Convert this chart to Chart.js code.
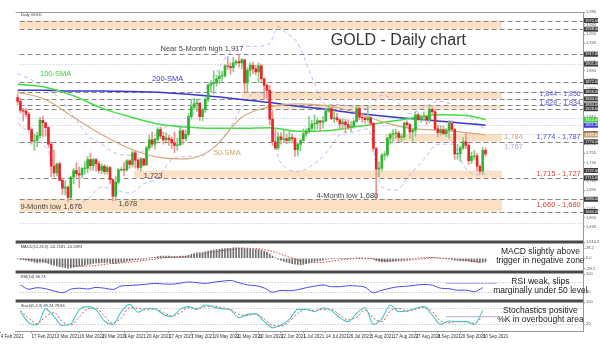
<!DOCTYPE html>
<html>
<head>
<meta charset="utf-8">
<script src="https://cdn.jsdelivr.net/npm/chart.js@4.4.1/dist/chart.umd.min.js"></script>
<style>
  html, body { margin: 0; padding: 0; background: #fff; }
  #wrap { position: relative; width: 600px; height: 345px; }
  canvas { display: block; }
</style>
</head>
<body>
<div id="wrap"><canvas id="goldChart" width="600" height="345"></canvas></div>
<script>
/* ====== DATA ====== */
// daily candles, 10 Feb 2021 -> 1 Oct 2021 (one entry per trading day)
const open = [
  1846,1840,1825,1824,1819,1794,1775,1776,1784,1809,1805,1797,1770,                               // Feb
  1734,1723,1738,1711,1698,1700,1683,1716,1727,1722,1720,1730,1731,1745,1735,1745,1738,1727,1734,1725,1732,1712,1685, // Mar
  1708,1728,1729,1728,1743,1737,1756,1744,1732,1746,1736,1764,1777,1770,1778,1794,1783,1777,1780,1778,1772,1768,      // Apr
  1769,1792,1779,1786,1815,1831,1836,1837,1815,1826,1843,1867,1869,1870,1877,1881,1882,1898,1897,1895,1903,           // May
  1905,1903,1908,1870,1891,1899,1893,1888,1898,1877,1866,1858,1811,1774,1764,1782,1778,1779,1776,1781,1779,1761,      // Jun
  1770,1776,1787,1791,1796,1803,1804,1808,1806,1808,1824,1828,1812,1813,1810,1803,1806,1802,1798,1799,1807,1828,      // Jul
  1814,1813,1810,1813,1804,1763,1729,1731,1752,1753,1780,1786,1787,1788,1781,1782,1805,1802,1790,1793,1818,1810,      // Aug
  1814,1815,1810,1827,1823,1795,1789,1794,1787,1793,1804,1794,1754,1755,1764,1774,1768,1743,1750,1751,1734,1726,1760  // Sep/Oct
];
const high = [
  1852,1845,1829,1828,1822,1797,1787,1790,1814,1816,1806,1799,1774,
  1760,1739,1741,1714,1710,1702,1718,1730,1740,1733,1732,1741,1750,1755,1747,1747,1742,1738,1737,1735,1734,1713,1718,
  1730,1732,1740,1745,1745,1759,1759,1746,1748,1747,1766,1785,1790,1780,1797,1798,1790,1789,1785,1782,1790,1780,
  1798,1794,1793,1820,1843,1845,1844,1838,1829,1846,1868,1874,1890,1883,1890,1889,1900,1913,1903,1912,1908,
  1917,1910,1909,1895,1903,1904,1899,1903,1901,1878,1869,1866,1825,1795,1789,1789,1795,1786,1793,1787,1781,1772,
  1779,1795,1795,1815,1809,1818,1813,1809,1815,1829,1834,1832,1825,1821,1812,1812,1811,1810,1807,1810,1832,1831,
  1820,1815,1832,1815,1806,1765,1741,1755,1758,1781,1788,1794,1794,1791,1787,1806,1808,1804,1796,1823,1821,1818,
  1823,1817,1834,1830,1826,1801,1800,1800,1796,1809,1808,1796,1770,1767,1781,1788,1771,1757,1760,1755,1736,1765,1764
];
const low = [
  1834,1821,1808,1815,1792,1770,1760,1766,1780,1782,1783,1765,1717,
  1717,1718,1710,1688,1687,1676,1681,1705,1716,1699,1715,1721,1723,1727,1727,1726,1723,1722,1721,1721,1705,1677,1678,
  1705,1726,1719,1726,1731,1733,1731,1728,1726,1734,1735,1760,1765,1762,1775,1779,1770,1774,1768,1763,1756,1760,
  1768,1770,1775,1783,1812,1826,1823,1809,1808,1822,1839,1856,1852,1865,1869,1873,1879,1892,1884,1888,1899,
  1896,1893,1856,1855,1881,1885,1883,1871,1873,1845,1845,1802,1768,1761,1761,1770,1774,1771,1772,1772,1750,1751,
  1759,1775,1783,1788,1793,1793,1795,1791,1796,1807,1822,1810,1805,1807,1794,1797,1789,1794,1791,1796,1806,1810,
  1806,1804,1806,1800,1758,1680,1717,1726,1744,1750,1770,1774,1779,1774,1774,1778,1797,1780,1775,1783,1808,1806,
  1808,1802,1805,1820,1792,1782,1785,1785,1782,1780,1792,1745,1745,1742,1761,1763,1737,1738,1745,1726,1721,1722,1750
];
const close = [
  1840,1825,1824,1819,1794,1775,1776,1784,1809,1805,1797,1770,1734,
  1723,1738,1711,1698,1700,1683,1716,1727,1722,1720,1730,1731,1745,1735,1745,1738,1727,1734,1725,1732,1712,1685,1708,
  1728,1729,1728,1743,1737,1756,1744,1732,1746,1736,1764,1777,1770,1778,1794,1783,1777,1780,1778,1772,1768,1769,
  1792,1779,1786,1815,1831,1836,1837,1815,1826,1843,1867,1869,1870,1877,1881,1882,1898,1897,1895,1903,1905,
  1903,1908,1870,1891,1899,1893,1888,1898,1877,1866,1858,1811,1774,1764,1782,1778,1779,1776,1781,1779,1761,1770,
  1776,1787,1791,1796,1803,1804,1808,1806,1808,1824,1828,1812,1813,1810,1803,1806,1802,1798,1799,1807,1828,1814,
  1813,1810,1813,1804,1763,1729,1731,1752,1753,1780,1786,1787,1788,1781,1782,1805,1802,1790,1793,1818,1810,1814,
  1815,1810,1827,1823,1795,1789,1794,1787,1793,1804,1794,1754,1755,1764,1774,1768,1743,1750,1751,1734,1726,1760,1754
];

// moving averages, read every 10 bars
const smaAt  = [0, 10, 20, 30, 40, 50, 60, 70, 80, 90, 100, 110, 120, 130, 140, 150, 160, 167];
const sma50  = [1855,1843,1814,1786,1763,1749,1746,1764,1814,1831,1836,1833,1823,1807,1796,1793,1789,1785];
const sma100 = [1868,1863,1849,1829,1815,1803,1798,1796,1796,1797,1791,1792,1798,1805,1812,1818,1817,1810];
const sma200 = [1858,1858,1857,1857,1856,1855,1852,1848,1843,1838,1832,1827,1821,1816,1812,1808,1804,1801];

// Bollinger bands
const bbAt    = [0,5,10,15,20,25,30,35,40,45,50,55,60,65,70,75,80,85,90,93,95,100,105,110,115,120,125,130,135,140,145,150,155,160,165,167];
const bbUpper = [1885,1875,1862,1845,1815,1785,1770,1755,1752,1760,1790,1800,1800,1845,1880,1915,1930,1930,1935,1962,1955,1935,1880,1835,1835,1830,1828,1850,1840,1820,1830,1840,1835,1820,1800,1795];
const bbLower = [1805,1785,1765,1720,1670,1680,1700,1695,1690,1705,1715,1745,1750,1750,1765,1790,1830,1855,1830,1750,1735,1725,1735,1755,1785,1790,1795,1700,1695,1720,1745,1770,1770,1730,1720,1722];

// MACD main line, one value per bar
const macd = [
  -2,-3,-4,-5,-7,-9,-11,-12,-11,-11,-12,-14,-18,
  -20,-21,-23,-25,-26,-28,-27,-25,-23,-22,-21,-19,-17,-16,-14,-13,-13,-12,-12,-11,-12,-14,-14,
  -12,-11,-10,-8,-7,-5,-4,-4,-3,-3,-1,1,2,3,5,6,6,6,6,5,5,4,
  6,6,6,8,11,13,15,15,16,18,20,22,23,24,25,26,27,28,28,29,29,
  29,29,27,27,26,25,24,24,22,20,17,12,6,1,-3,-6,-9,-11,-13,-15,-16,-17,
  -18,-17,-15,-13,-11,-9,-7,-6,-5,-3,-2,-1,-1,0,-1,-1,-1,-1,-1,0,1,1,
  1,0,0,-1,-3,-7,-9,-10,-10,-10,-9,-8,-7,-6,-5,-4,-3,-3,-2,0,1,1,
  2,2,3,3,2,1,0,-1,-2,-2,-3,-5,-6,-7,-7,-7,-8,-10,-10,-11,-12,-11,-10
];
// MACD signal, every 4th bar starting at bar 1
const macdSignal = [-1,-4,-8,-12,-18,-22,-22,-19,-15,-13,-10,-6,-2,2,4,5,10,16,21,25,28,27,23,14,3,-7,-12,-11,-7,-3,-1,0,-4,-7,-7,-4,-1,1,0,-3,-6,-11];

// RSI(14) and Stochastic %K / %D, every 3rd bar starting at bar 1
const rsi = [57,40,46,42,33,26,40,44,41,47,44,39,53,55,57,60,63,61,60,64,69,66,63,68,72,75,66,57,54,45,28,35,34,38,46,52,57,50,50,54,53,48,26,36,44,50,52,56,59,56,44,42,36,36,30,46];
const stochK = [66,26,18,76,48,16,22,72,84,72,32,20,66,92,64,78,76,56,48,74,84,74,90,82,76,72,44,56,58,30,8,18,38,74,74,66,80,70,44,30,60,80,20,40,90,66,68,78,84,54,20,32,30,30,20,70];
const stochD = [70,42,22,48,62,30,18,46,76,78,50,24,44,80,78,72,76,64,50,62,80,78,84,86,80,74,56,52,58,40,16,14,30,60,74,70,74,74,54,36,46,72,42,30,68,78,68,74,82,66,32,26,30,30,24,48];

// date axis labels and the bar each one sits on
const dateTicks  = ['4 Feb 2021','17 Feb 2021','3 Mar 2021','16 Mar 2021','29 Mar 2021','9 Apr 2021','20 Apr 2021','27 Apr 2021','7 May 2021','19 May 2021','31 May 2021','10 Jun 2021','22 Jun 2021','1 Jul 2021','14 Jul 2021','26 Jul 2021','5 Aug 2021','17 Aug 2021','27 Aug 2021','8 Sep 2021','20 Sep 2021','30 Sep 2021'];
const dateTickAt = [-6, 5, 14, 22, 30, 38, 46, 54, 62, 70, 78, 86, 94, 102, 110, 118, 126, 134, 142, 150, 158, 166];

/* ====== LEVELS / NOTES ====== */
const zones = [
  { lo: 1958, hi: 1972, from: 0.7, to: 172.9 },
  { lo: 1844, hi: 1856, from: 80,  to: 172.9 },
  { lo: 1828, hi: 1834, from: 88,  to: 172.9 },
  { lo: 1774, hi: 1787, from: 131, to: 172.9 },
  { lo: 1715, hi: 1727, from: 41.5, to: 172.9 },
  { lo: 1660, hi: 1680, from: 0.7, to: 172.9 }
];
const levels = [
  { p: 1972, s: 'dash' }, { p: 1958, s: 'dash' }, { p: 1917, s: 'dash' }, { p: 1901, s: 'dot' },
  { p: 1872, s: 'dash' }, { p: 1856, s: 'dash' }, { p: 1844, s: 'dash' }, { p: 1834, s: 'dash' },
  { p: 1828, s: 'dash' }, { p: 1813, s: 'lav' },  { p: 1801, s: 'lav' },  { p: 1787, s: 'dot' },
  { p: 1774, s: 'dash' }, { p: 1715, s: 'dash' }, { p: 1680, s: 'dash' }, { p: 1660, s: 'dash' },
  { p: 1642, s: 'dot' }
];
const lineStyles = {
  dash: { color: '#858585', dash: [5, 3], width: 1 },
  dot:  { color: '#c4c4c4', dash: [1, 2], width: 1 },
  lav:  { color: '#b4b4ee', dash: [1, 2], width: 1 }
};
const priceTags = [1972, 1958, 1917, 1901, 1872, 1856, 1844, 1834, 1828, 1787, 1774, 1727, 1715, 1680, 1660];

const FONT = 'Liberation Sans, Arial, sans-serif';
const notes = [
  { t: 'GOLD - Daily chart',      x: 135.9, y: 1940, size: 16, color: '#333', align: 'center' },
  { t: 'Near 5-Month high 1,917', x: 51,  y: 1925.5, size: 7.5, color: '#444' },
  { t: '100-SMA',                 x: 8,   y: 1885, size: 7.5, color: '#3ccf3c' },
  { t: '200-SMA',                 x: 48,  y: 1877, size: 7.5, color: '#3a3ad0' },
  { t: '50-SMA',                  x: 70,  y: 1756, size: 7.5, color: '#d2a26f' },
  { t: '1,723',                   x: 45,  y: 1718.5, size: 7.5, color: '#444' },
  { t: '1,678',                   x: 36,  y: 1673, size: 7.5, color: '#444' },
  { t: '9-Month low 1,676',       x: 1,   y: 1668, size: 7.5, color: '#444' },
  { t: '4-Month low 1,680',       x: 106.7, y: 1685.5, size: 7.5, color: '#444' },
  { t: '1,784',                   x: 173.6, y: 1781.5, size: 7.5, color: '#d2a26f' },
  { t: '1,767',                   x: 173.6, y: 1765.5, size: 7.5, color: '#a8a8ee' },
  { t: '1,844 - 1,856',           x: 201, y: 1852, size: 7, color: '#5a5ae0', align: 'right' },
  { t: '1,828 - 1,834',           x: 201, y: 1836.5, size: 7, color: '#5a5ae0', align: 'right' },
  { t: '1,774 - 1,787',           x: 201, y: 1781.5, size: 7.5, color: '#4a4ad8', align: 'right' },
  { t: '1,715 - 1,727',           x: 201, y: 1722, size: 7.5, color: '#e03a3a', align: 'right' },
  { t: '1,660 - 1,680',           x: 201, y: 1670, size: 7.5, color: '#e03a3a', align: 'right' }
];
// comments next to the oscillators: [axis, value, text]
const paneNotes = [
  ['yMacd', 17.5, 'MACD slightly above'], ['yMacd', -7.5, 'trigger in negative zone'],
  ['yRsi', 69, 'RSI weak, slips'],        ['yRsi', 33, 'marginally under 50 level'],
  ['yStoch', 68, 'Stochastics positive'], ['yStoch', 36, '%K in overbought area']
];
const paneTitles = { y: 'Daily GOLD', yMacd: 'MACD(12,26,9) -10.2181 -10.5893', yRsi: 'RSI(14) 46.73', yStoch: 'Stoch(5,3,3) 89.24 78.84' };
const guides = { yRsi: [70, 30], yStoch: [80, 20] };
const rsiMark = { from: 153, to: 171, v: 63 };
const stochMark = { from: 153, to: 171, v: 47.6 };

/* ====== BUILD DATASETS ====== */
const up = open.map((o, i) => close[i] >= o);
const bodies = open.map((o, i) => ({ x: i, y: [o, close[i]] }));
const wicks = open.map((o, i) => ({ x: i, y: [low[i], high[i]] }));
const pts = (at, vals) => vals.map((v, i) => ({ x: at[i], y: v }));
const every = (vals, step, start) => vals.map((v, i) => ({ x: start + i * step, y: v }));

const lineDs = (data, color, width, axis, dash) => ({
  type: 'line', data, yAxisID: axis, borderColor: color, borderWidth: width,
  borderDash: dash || [], pointRadius: 0, cubicInterpolationMode: 'monotone', fill: false
});

/* ====== OVERLAY PLUGIN ====== */
const overlay = {
  id: 'overlay',
  beforeDatasetsDraw(chart) {
    const { ctx, chartArea: ca, scales } = chart;
    const x = scales.x, y = scales.y;
    ctx.save();
    ctx.fillStyle = 'rgba(251, 214, 176, 0.75)';
    zones.forEach(z => {
      const x0 = x.getPixelForValue(z.from), x1 = x.getPixelForValue(z.to);
      const y0 = y.getPixelForValue(z.hi), y1 = y.getPixelForValue(z.lo);
      ctx.fillRect(x0, y0, x1 - x0, y1 - y0);
    });
    levels.forEach(l => {
      const st = lineStyles[l.s];
      const py = Math.round(y.getPixelForValue(l.p)) + 0.5;
      ctx.beginPath();
      ctx.strokeStyle = st.color; ctx.lineWidth = st.width; ctx.setLineDash(st.dash);
      ctx.moveTo(ca.left + 4, py); ctx.lineTo(ca.right, py); ctx.stroke();
    });
    // 70/30 and 80/20 guides
    Object.keys(guides).forEach(id => {
      guides[id].forEach(v => {
        const py = Math.round(scales[id].getPixelForValue(v)) + 0.5;
        ctx.beginPath();
        ctx.strokeStyle = '#b0b0b0'; ctx.lineWidth = 1; ctx.setLineDash([1, 2]);
        ctx.moveTo(ca.left + 4, py); ctx.lineTo(ca.right, py); ctx.stroke();
      });
    });
    ctx.restore();
  },
  afterDatasetsDraw(chart) {
    const { ctx, chartArea: ca, scales } = chart;
    const x = scales.x, y = scales.y;
    ctx.save();
    ctx.setLineDash([]);

    // hand-drawn marks on the oscillators
    [[rsiMark, 'yRsi'], [stochMark, 'yStoch']].forEach(([m, id]) => {
      const py = scales[id].getPixelForValue(m.v);
      ctx.beginPath();
      ctx.strokeStyle = '#b9a6f0'; ctx.lineWidth = 1;
      ctx.moveTo(x.getPixelForValue(m.from), py); ctx.lineTo(x.getPixelForValue(m.to), py); ctx.stroke();
    });

    // pane separators
    ctx.strokeStyle = '#4a4a4a'; ctx.lineWidth = 3;
    ['yMacd', 'yRsi', 'yStoch'].forEach(id => {
      const py = scales[id].top;
      ctx.beginPath(); ctx.moveTo(ca.left, py); ctx.lineTo(ca.right, py); ctx.stroke();
    });
    ctx.strokeStyle = '#9a9a9a'; ctx.lineWidth = 1;
    ctx.beginPath(); ctx.moveTo(ca.left, ca.top + 0.5); ctx.lineTo(ca.right, ca.top + 0.5); ctx.stroke();

    // price tags on the right axis
    ctx.font = '4px ' + FONT; ctx.textAlign = 'left'; ctx.textBaseline = 'middle';
    priceTags.forEach(p => {
      const py = y.getPixelForValue(p);
      ctx.fillStyle = '#3c3c3c'; ctx.fillRect(ca.right + 1, py - 2.5, 14, 5);
      ctx.fillStyle = '#fff'; ctx.fillText(p.toFixed(2), ca.right + 2, py);
    });
    [[sma200, '#3a3ad0'], [sma100, '#3ccf3c'], [sma50, '#d2a26f']].forEach(([s, c]) => {
      const v = s[s.length - 1], py = y.getPixelForValue(v);
      ctx.fillStyle = c; ctx.fillRect(ca.right + 1, py - 2.5, 14, 5);
      ctx.fillStyle = '#fff'; ctx.fillText(v.toFixed(2), ca.right + 2, py);
    });

    // labels on the price pane
    notes.forEach(n => {
      ctx.font = n.size + 'px ' + FONT;
      ctx.fillStyle = n.color;
      ctx.textAlign = n.align || 'left';
      ctx.textBaseline = 'middle';
      ctx.fillText(n.t, x.getPixelForValue(n.x), y.getPixelForValue(n.y));
    });

    // pane comments
    ctx.font = '8.5px ' + FONT; ctx.fillStyle = '#222'; ctx.textAlign = 'center';
    paneNotes.forEach(([id, v, t]) => {
      ctx.fillText(t, x.getPixelForValue(186.6), scales[id].getPixelForValue(v));
    });

    // tiny pane titles
    ctx.font = '4px ' + FONT; ctx.fillStyle = '#333'; ctx.textAlign = 'left';
    Object.keys(paneTitles).forEach(id => {
      ctx.fillText(paneTitles[id], ca.left + 5, scales[id].top + (id === 'y' ? 3 : 5));
    });
    ctx.restore();
  }
};

/* ====== CHART ====== */
const fixWidth = s => { s.width = 17; };
const tinyTicks = { font: { size: 4, family: FONT }, color: '#555', padding: 1 };

const chart = new Chart(document.getElementById('goldChart').getContext('2d'), {
  type: 'bar',
  data: {
    datasets: [
      { data: bodies, yAxisID: 'y', grouped: false, barThickness: 2, borderWidth: 0,
        backgroundColor: up.map(u => u ? '#2fb52f' : '#e8262a') },
      { data: wicks, yAxisID: 'y', grouped: false, barThickness: 1, borderWidth: 0,
        backgroundColor: up.map(u => u ? '#7fcf7f' : '#f39090') },
      lineDs(pts(smaAt, sma50), '#d7a877', 1.2, 'y'),
      lineDs(pts(smaAt, sma100), '#44dd44', 1.5, 'y'),
      lineDs(pts(smaAt, sma200), '#3737d0', 1.5, 'y'),
      lineDs(pts(bbAt, bbUpper), '#a9a9f2', 0.8, 'y', [4, 3]),
      lineDs(pts(bbAt, bbLower), '#a9a9f2', 0.8, 'y', [4, 3]),
      { data: macd.map((v, i) => ({ x: i, y: v })), yAxisID: 'yMacd', grouped: false,
        barThickness: 1, borderWidth: 0, backgroundColor: '#6e6e6e' },
      lineDs(every(macdSignal, 4, 1), '#e34040', 1, 'yMacd', [1.5, 1.5]),
      lineDs(every(rsi, 3, 1), '#4b4bf0', 1, 'yRsi'),
      lineDs(every(stochK, 3, 1), '#46c6c6', 1.1, 'yStoch'),
      lineDs(every(stochD, 3, 1), '#e34a4a', 1, 'yStoch', [2, 2])
    ]
  },
  options: {
    responsive: false,
    animation: false,
    layout: { padding: { top: 12, left: 8, right: 0, bottom: 0 } },
    plugins: { legend: { display: false }, tooltip: { enabled: false } },
    scales: {
      x: {
        type: 'linear', min: -0.7, max: 201.8, offset: false,
        grid: { display: true, drawOnChartArea: false, offset: false, tickLength: 2, color: '#999' },
        border: { color: '#999' },
        afterBuildTicks: s => { s.ticks = dateTickAt.map(v => ({ value: v })); },
        afterFit: s => { s.height = 14; },
        ticks: {
          autoSkip: false, maxRotation: 0, align: 'start', padding: 1,
          font: { size: 4.5, family: FONT }, color: '#333',
          callback: (v, i) => dateTicks[i]
        }
      },
      y: {
        position: 'right', stack: 'panes', stackWeight: 230, min: 1610.2, max: 1986,
        grid: { drawOnChartArea: false, tickLength: 2, color: '#999' }, border: { color: '#999' },
        afterFit: fixWidth,
        ticks: Object.assign({ stepSize: 15, autoSkip: false }, tinyTicks)
      },
      yMacd: {
        position: 'right', stack: 'panes', stackWeight: 30, min: -38.1, max: 45.3,
        grid: { drawOnChartArea: false, tickLength: 2, color: '#999' }, border: { color: '#999' },
        afterFit: fixWidth,
        afterBuildTicks: s => { s.ticks = [28.2, 0, -28.2].map(v => ({ value: v })); },
        ticks: Object.assign({ callback: v => v.toFixed(1) }, tinyTicks)
      },
      yRsi: {
        position: 'right', stack: 'panes', stackWeight: 29, min: -7.2, max: 108.8,
        grid: { drawOnChartArea: false, tickLength: 2, color: '#999' }, border: { color: '#999' },
        afterFit: fixWidth,
        afterBuildTicks: s => { s.ticks = [100, 70, 50, 30, 0].map(v => ({ value: v })); },
        ticks: tinyTicks
      },
      yStoch: {
        position: 'right', stack: 'panes', stackWeight: 30, min: -4, max: 104.3,
        grid: { drawOnChartArea: false, tickLength: 2, color: '#999' }, border: { color: '#999' },
        afterFit: fixWidth,
        afterBuildTicks: s => { s.ticks = [100, 80, 20, 0].map(v => ({ value: v })); },
        ticks: tinyTicks
      }
    }
  },
  plugins: [overlay]
});
</script>
</body>
</html>
